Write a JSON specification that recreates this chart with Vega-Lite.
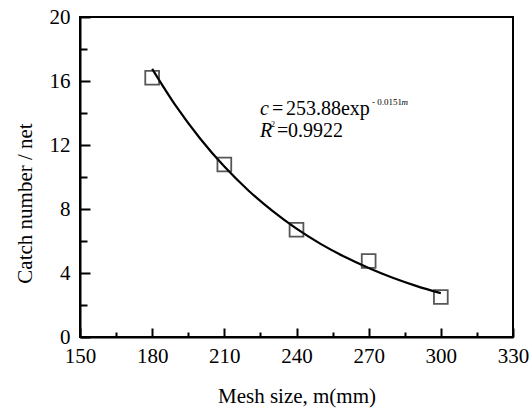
{
  "$schema": "https://vega.github.io/schema/vega-lite/v6.json",
  "autosize": "none",
  "width": 433,
  "height": 320,
  "padding": {"left": 80, "top": 17, "right": 19, "bottom": 74},
  "background": "white",
  "config": {
    "view": {"stroke": "black", "strokeWidth": 2},
    "font": "Liberation Serif",
    "axis": {
      "labelFont": "Liberation Serif",
      "titleFont": "Liberation Serif",
      "labelFontSize": 21,
      "titleFontSize": 21,
      "titleFontWeight": "normal",
      "labelColor": "black",
      "titleColor": "black",
      "domainColor": "black",
      "domainWidth": 2,
      "tickColor": "black",
      "tickWidth": 2,
      "grid": false
    }
  },
  "datasets": {
    "obs": [
      {"mesh": 180, "catch": 16.2},
      {"mesh": 210, "catch": 10.78},
      {"mesh": 240, "catch": 6.7},
      {"mesh": 270, "catch": 4.75},
      {"mesh": 300, "catch": 2.5}
    ],
    "fit": [
      {"mesh": 180, "catch": 16.76},
      {"mesh": 190, "catch": 14.41},
      {"mesh": 200, "catch": 12.39},
      {"mesh": 210, "catch": 10.65},
      {"mesh": 220, "catch": 9.16},
      {"mesh": 230, "catch": 7.88},
      {"mesh": 240, "catch": 6.77},
      {"mesh": 250, "catch": 5.82},
      {"mesh": 260, "catch": 5.01},
      {"mesh": 270, "catch": 4.31},
      {"mesh": 280, "catch": 3.70},
      {"mesh": 290, "catch": 3.18},
      {"mesh": 300, "catch": 2.74}
    ],
    "one": [{}]
  },
  "resolve": {"scale": {"x": "shared", "y": "shared"}, "axis": {"x": "independent", "y": "independent"}},
  "layer": [
    {
      "data": {"name": "fit"},
      "mark": {"type": "line", "color": "black", "strokeWidth": 2.2, "interpolate": "monotone"},
      "encoding": {
        "x": {
          "field": "mesh", "type": "quantitative",
          "scale": {"domain": [150, 330], "nice": false, "zero": false},
          "axis": {
            "orient": "bottom",
            "title": "Mesh size, m(mm)",
            "values": [150, 180, 210, 240, 270, 300, 330],
            "ticks": false,
            "labelPadding": 8,
            "labelFlush": false,
            "labelOverlap": false,
            "titlePadding": 19
          }
        },
        "y": {
          "field": "catch", "type": "quantitative",
          "scale": {"domain": [0, 20], "nice": false},
          "axis": {
            "orient": "left",
            "title": "Catch number / net",
            "values": [0, 4, 8, 12, 16, 20],
            "ticks": false,
            "labelPadding": 10,
            "labelFlush": false,
            "labelOverlap": false,
            "titleX": -55,
            "titleY": 186,
            "titleBaseline": "middle",
            "titleAlign": "center"
          }
        }
      }
    },
    {
      "data": {"name": "obs"},
      "mark": {"type": "point", "shape": "square", "filled": false, "color": "#111111", "strokeWidth": 1.8, "size": 190},
      "encoding": {
        "x": {
          "field": "mesh", "type": "quantitative",
          "axis": {
            "orient": "top",
            "offset": -320,
            "title": null,
            "labels": false,
            "domain": false,
            "values": [150, 165, 180, 195, 210, 225, 240, 255, 270, 285, 300, 315, 330],
            "tickSize": {"condition": {"test": "datum.value % 30 === 0", "value": 9}, "value": 5}
          }
        },
        "y": {
          "field": "catch", "type": "quantitative",
          "axis": {
            "orient": "right",
            "offset": -433,
            "title": null,
            "labels": false,
            "domain": false,
            "values": [0, 2, 4, 6, 8, 10, 12, 14, 16, 18, 20],
            "tickSize": {"condition": {"test": "datum.value % 4 === 0", "value": 10}, "value": 7}
          }
        }
      }
    },
    {
      "data": {"name": "one"},
      "mark": {"type": "text", "text": "c", "font": "Liberation Serif", "fontSize": 20, "fontStyle": "italic", "align": "left", "baseline": "alphabetic", "color": "black"},
      "encoding": {"x": {"datum": 224.83, "axis": null}, "y": {"datum": 13.875, "axis": null}}
    },
    {
      "data": {"name": "one"},
      "mark": {"type": "text", "text": "=", "font": "Liberation Serif", "fontSize": 20, "align": "left", "baseline": "alphabetic", "color": "black"},
      "encoding": {"x": {"datum": 229.81, "axis": null}, "y": {"datum": 13.875, "axis": null}}
    },
    {
      "data": {"name": "one"},
      "mark": {"type": "text", "text": "253.88exp", "font": "Liberation Serif", "fontSize": 20, "align": "left", "baseline": "alphabetic", "color": "black"},
      "encoding": {"x": {"datum": 235.63, "axis": null}, "y": {"datum": 13.875, "axis": null}}
    },
    {
      "data": {"name": "one"},
      "mark": {"type": "text", "text": "- 0.0151", "font": "Liberation Serif", "fontSize": 9, "align": "left", "baseline": "alphabetic", "color": "black"},
      "encoding": {"x": {"datum": 271.4, "axis": null}, "y": {"datum": 14.5, "axis": null}}
    },
    {
      "data": {"name": "one"},
      "mark": {"type": "text", "text": "m", "font": "Liberation Serif", "fontSize": 9, "fontStyle": "italic", "align": "left", "baseline": "alphabetic", "color": "black"},
      "encoding": {"x": {"datum": 283.7, "axis": null}, "y": {"datum": 14.5, "axis": null}}
    },
    {
      "data": {"name": "one"},
      "mark": {"type": "text", "text": "R", "font": "Liberation Serif", "fontSize": 20, "fontStyle": "italic", "align": "left", "baseline": "alphabetic", "color": "black"},
      "encoding": {"x": {"datum": 224.83, "axis": null}, "y": {"datum": 12.52, "axis": null}}
    },
    {
      "data": {"name": "one"},
      "mark": {"type": "text", "text": "2", "font": "Liberation Serif", "fontSize": 8, "align": "left", "baseline": "alphabetic", "color": "black"},
      "encoding": {"x": {"datum": 229.4, "axis": null}, "y": {"datum": 13.125, "axis": null}}
    },
    {
      "data": {"name": "one"},
      "mark": {"type": "text", "text": "=", "font": "Liberation Serif", "fontSize": 20, "align": "left", "baseline": "alphabetic", "color": "black"},
      "encoding": {"x": {"datum": 231.9, "axis": null}, "y": {"datum": 12.52, "axis": null}}
    },
    {
      "data": {"name": "one"},
      "mark": {"type": "text", "text": "0.9922", "font": "Liberation Serif", "fontSize": 20, "align": "left", "baseline": "alphabetic", "color": "black"},
      "encoding": {"x": {"datum": 236.46, "axis": null}, "y": {"datum": 12.52, "axis": null}}
    }
  ]
}
